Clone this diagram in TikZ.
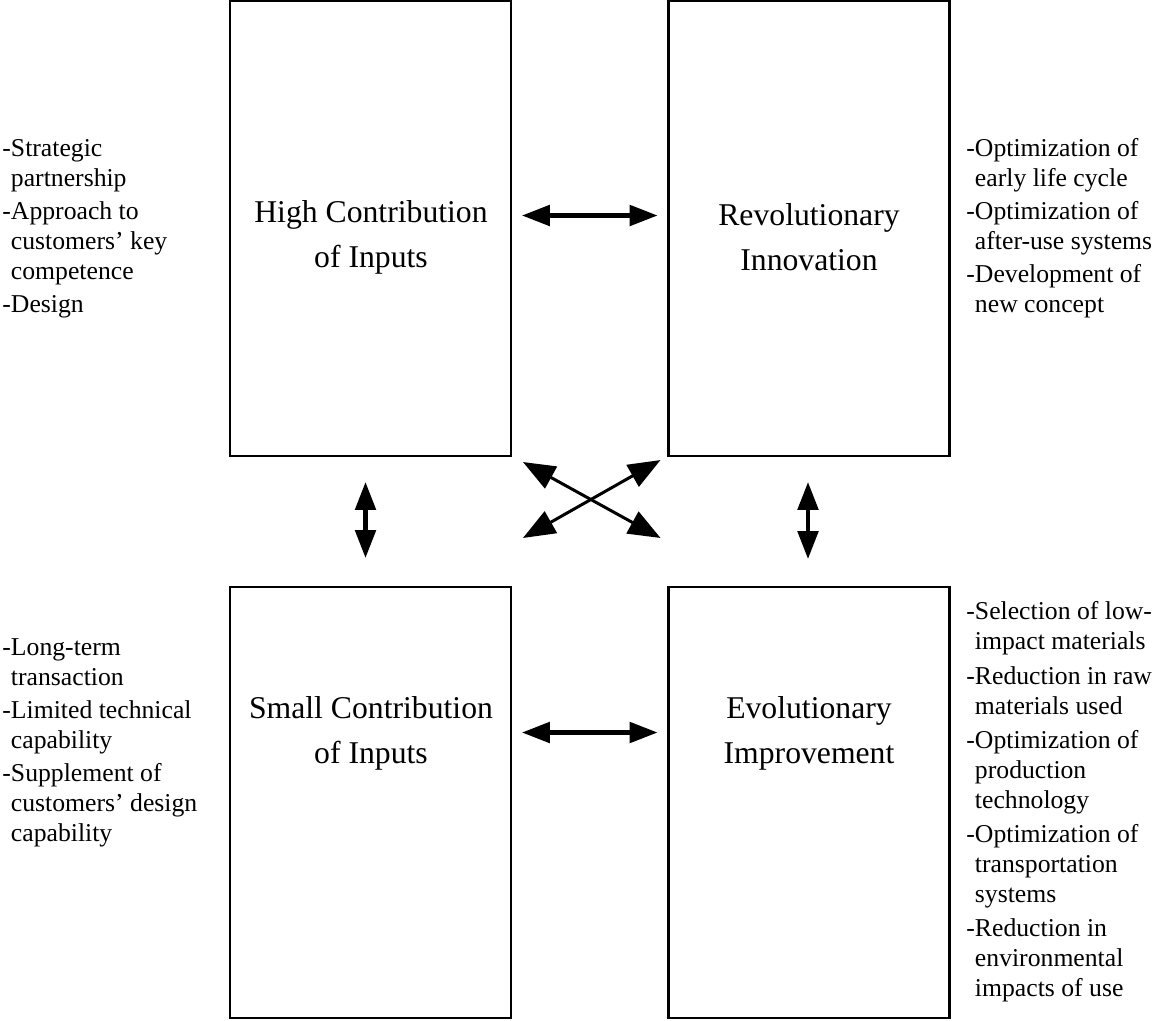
\documentclass[tikz,border=0pt]{standalone}
\usepackage{fontspec}
\setmainfont{Liberation Serif}
\usetikzlibrary{arrows.meta,positioning,calc}

\newcommand{\ind}{\phantom{-}}

\begin{document}
\begin{tikzpicture}[
  x=0.467pt, y=-0.467pt,
  quad/.style={draw, line width=1pt, inner sep=0pt, outer sep=0pt,
               minimum width=131.2pt},
  quadtall/.style={quad, minimum height=212.5pt},
  quadshort/.style={quad, minimum height=201.3pt},
  lbl/.style={align=center, font=\fontsize{14.8}{21}\selectfont},
  side/.style={align=left, anchor=west, inner sep=0pt,
               font=\fontsize{12}{14}\selectfont},
  dbl/.style={{Triangle[length=13pt,width=9.5pt]}-{Triangle[length=13pt,width=9.5pt]},
              line width=1.9pt},
  xarr/.style={{Triangle[length=15pt,width=11.5pt]}-{Triangle[length=15pt,width=11.5pt]},
               line width=1.4pt}
]
\useasboundingbox (0,0) rectangle (1160,1020);

% ---------- quadrants ----------
\node[quadtall] (hci) at (370.5,228.5) {};
\node[quadtall] (ri) at (809,228.5) {};
\node[quadshort] (sci) at (370.5,802.5) {};
\node[quadshort] (ei) at (809,802.5) {};

\node[lbl] (hcit) at (371,237) {High Contribution\\of Inputs};
\node[lbl] (rit) at (809,237) {Revolutionary\\Innovation};
\node[lbl] (scit) at (371,733) {Small Contribution\\of Inputs};
\node[lbl] (eit) at (809,733) {Evolutionary\\Improvement};

% ---------- side notes ----------
\node[side] (hcin) at (2,229) {-Strategic\\\ind partnership\\[1.5pt]-Approach to\\\ind customers' key\\\ind competence\\[1.5pt]-Design};
\node[side] (rin) at (966,228) {-Optimization of\\\ind early life cycle\\[1.5pt]-Optimization of\\\ind after-use systems\\[1.5pt]-Development of\\\ind new concept};
\node[side] (scin) at (2,743) {-Long-term\\\ind transaction\\[1.5pt]-Limited technical\\\ind capability\\[1.5pt]-Supplement of\\\ind customers' design\\\ind capability};
\node[side] (ein) at (966,802) {-Selection of low-\\\ind impact materials\\[2pt]-Reduction in raw\\\ind materials used\\[2pt]-Optimization of\\\ind production\\\ind technology\\[2pt]-Optimization of\\\ind transportation\\\ind systems\\[2pt]-Reduction in\\\ind environmental\\\ind impacts of use};

% ---------- arrows ----------
\draw[dbl] ($(hci.east)+(11,-13)$) -- ($(ri.west)+(-11,-13)$);
\draw[dbl] ($(sci.east)+(11,-70)$) -- ($(ei.west)+(-11,-70)$);
\draw[dbl] ($(hci.south)+(-5,26)$) -- ($(sci.north)+(-5,-29)$);
\draw[dbl] ($(ri.south)+(-1,26)$) -- ($(ei.north)+(-1,-28)$);
\draw[xarr] ($(hci.south east)+(12,6)$) -- ($(ei.north west)+(-8,-49)$);
\draw[xarr] ($(sci.north east)+(12,-49)$) -- ($(ri.south west)+(-8,4)$);

\end{tikzpicture}
\end{document}
